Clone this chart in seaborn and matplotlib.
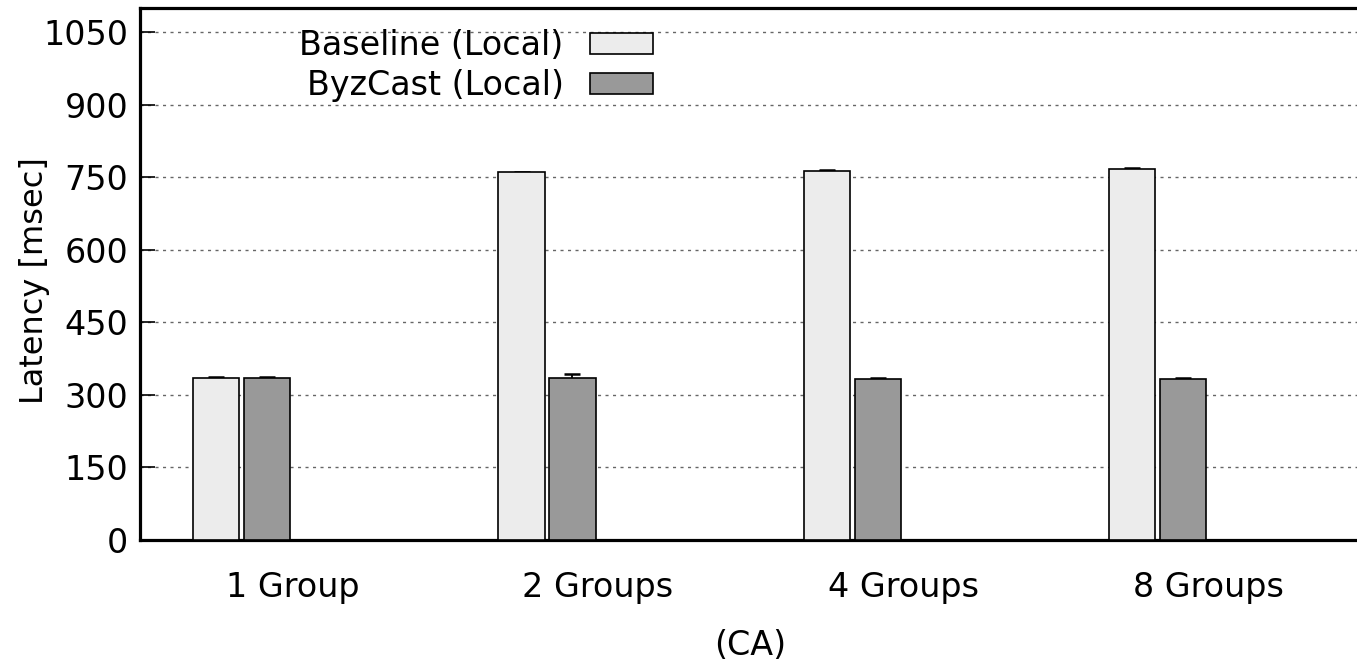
import matplotlib
matplotlib.use("Agg")
import matplotlib.pyplot as plt
import seaborn as sns
import pandas as pd

# ---- data ----
groups = ["1 Group", "2 Groups", "4 Groups", "8 Groups"]
series = ["Baseline (Local)", "ByzCast (Local)", "Baseline (Global)", "ByzCast (Global)"]
baseline_local = [335, 760, 764, 767]
byzcast_local = [335, 335, 333, 333]
baseline_global = [0, 0, 0, 0]
byzcast_global = [0, 0, 0, 0]
baseline_err = [1.5, 1.5, 1.5, 1.5]
byzcast_err = [1.5, 8, 1.5, 1.5]
yticks = [0, 150, 300, 450, 600, 750, 900, 1050]

values = [baseline_local, byzcast_local, baseline_global, byzcast_global]
errs = [baseline_err, byzcast_err, [0] * 4, [0] * 4]

rows = []
for s, vals in zip(series, values):
    for g, v in zip(groups, vals):
        rows.append({"group": g, "series": s, "latency": v})
df = pd.DataFrame(rows)

sns.set_theme(style="white")
plt.rcParams["font.family"] = ["DejaVu Sans"]
for k in ["text.color", "axes.labelcolor", "xtick.color", "ytick.color"]:
    plt.rcParams[k] = "black"

FS = 24

fig = plt.figure(figsize=(13.57, 6.6), dpi=100)
ax = fig.add_axes([140 / 1357, 120 / 660, (1361 - 140) / 1357, 532 / 660])

palette = {
    "Baseline (Local)": "#ececec",
    "ByzCast (Local)": "#999999",
    "Baseline (Global)": "#ffffff",
    "ByzCast (Global)": "#ffffff",
}
sns.barplot(data=df, x="group", y="latency", hue="series", hue_order=series,
            order=groups, palette=palette, width=4 / 6, gap=0.09,
            edgecolor="black", linewidth=1.2, errorbar=None, legend=False,
            saturation=1, ax=ax, zorder=3)

# error bars (drawn beneath the bars, like the reference)
for cont, err, vals in zip(ax.containers, errs, values):
    if max(err) == 0:
        continue
    xs = [p.get_x() + p.get_width() / 2 for p in cont.patches]
    ax.errorbar(xs, vals, yerr=err, fmt="none", ecolor="black",
                elinewidth=1.3, capsize=5.5, capthick=1.8, zorder=2.9)

ax.set_xlim(-0.5, 3.5)
ax.set_ylim(0, 1100)
ax.set_yticks(yticks)
ax.set_yticklabels([str(t) for t in yticks])
ax.yaxis.grid(True, linestyle=(0, (2.2, 3.2)), color="#666666", linewidth=1.0)
ax.xaxis.grid(False)
ax.set_axisbelow(True)

for side in ["left", "top", "bottom", "right"]:
    ax.spines[side].set_linewidth(2.3)
    ax.spines[side].set_color("black")

ax.tick_params(axis="y", direction="in", length=11, width=1.2, color="black",
               labelsize=FS, pad=8.5, left=True)
ax.tick_params(axis="x", length=0, labelsize=FS, pad=22)

ax.set_ylabel("Latency [msec]", fontsize=23)
ax.yaxis.set_label_coords((50 - 140) / 1221, (540 - 281) / 532)
ax.set_xlabel("(CA)", fontsize=FS, labelpad=18)

handles = list(ax.containers[:2])
leg = ax.legend(handles, series[:2], loc="upper right", frameon=False,
                markerfirst=False, fontsize=FS, handlelength=1.9,
                handleheight=0.6, handletextpad=0.78, labelspacing=0.22,
                borderaxespad=0, borderpad=0,
                bbox_to_anchor=((653 - 140) / 1221, 1 - 21 / 532))

fig.savefig("out.png", dpi=100)
